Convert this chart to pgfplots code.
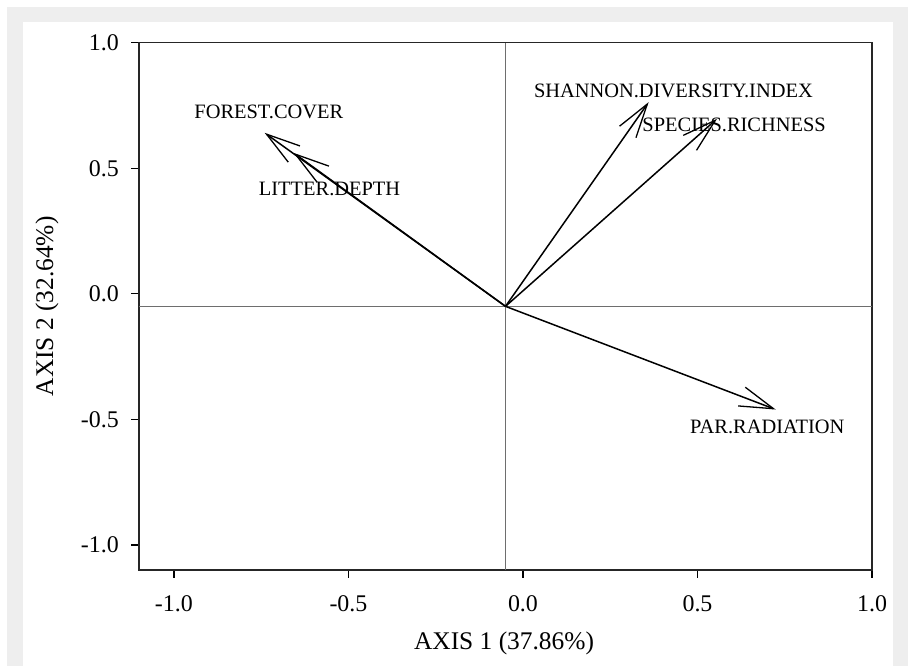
\documentclass[border=0pt]{standalone}
\usepackage{pgfplots}
\pgfplotsset{compat=1.18}
\usepackage{fontspec}
\setmainfont{Liberation Serif}
\usetikzlibrary{arrows.meta}
\definecolor{bandgray}{HTML}{EEEEEE}
\definecolor{zerogray}{HTML}{6E6E6E}
\tikzset{vec/.style={black, line width=1.5bp, no marks, -{Straight Barb[length=34bp, width=20bp, line width=1.3bp]}}}
\begin{document}
\begin{tikzpicture}[x=1bp,y=1bp]
\fill[white] (0,0) rectangle (911,666);
\fill[bandgray] (7,0) rectangle (908,659);
\fill[white] (23,0) rectangle (893,644);
\begin{axis}[
  at={(139bp,96bp)}, anchor=south west,
  width=733bp, height=527.3bp, scale only axis,
  xmin=-1.1, xmax=1.0, ymin=-1.1, ymax=1.0,
  xtick={-1,-0.5,0,0.5,1}, ytick={-1,-0.5,0,0.5,1},
  xtick pos=bottom, ytick pos=left,
  tick align=outside,
  major tick length=8bp,
  tick style={black, line width=1.4bp},
  axis line style={black!85, line width=1.6bp},
  /pgf/number format/assume math mode=true,
  /pgf/number format/.cd, fixed, fixed zerofill, precision=1, /pgfplots/.cd,
  ticklabel style={font=\fontsize{24}{28}\selectfont, inner sep=0pt},
  xticklabel style={anchor=north, yshift=-17bp},
  yticklabel style={anchor=east, xshift=-12bp},
  xlabel={AXIS 1 (37.86\%)},
  ylabel={AXIS 2 (32.64\%)},
  label style={font=\fontsize{25.5}{30}\selectfont},
  x label style={at={(axis description cs:0.498,0)}, anchor=center, yshift=-73bp},
  y label style={at={(axis description cs:0,0.5)}, anchor=center, yshift=92bp},
  clip=false,
]
\addplot[zerogray, line width=1.6bp, no marks] coordinates {(-0.05,-1.1) (-0.05,1.0)};
\addplot[zerogray, line width=1.6bp, no marks] coordinates {(-1.1,-0.05) (1.0,-0.05)};

\node[font=\fontsize{20.5}{24}\selectfont] at (axis cs:-0.728,0.726) {FOREST.COVER};
\node[font=\fontsize{20.5}{24}\selectfont] at (axis cs:-0.554,0.418) {LITTER.DEPTH};
\node[font=\fontsize{20.5}{24}\selectfont] at (axis cs:0.431,0.809) {SHANNON.DIVERSITY.INDEX};
\node[font=\fontsize{20.5}{24}\selectfont] at (axis cs:0.605,0.673) {SPECIES.RICHNESS};
\node[font=\fontsize{20.5}{24}\selectfont] at (axis cs:0.700,-0.531) {PAR.RADIATION};

\addplot[vec] coordinates {(-0.05,-0.05) (-0.740,0.641)};
\addplot[vec] coordinates {(-0.05,-0.05) (-0.657,0.561)};
\addplot[vec] coordinates {(-0.05,-0.05) (0.360,0.763)};
\addplot[vec] coordinates {(-0.05,-0.05) (0.556,0.697)};
\addplot[vec] coordinates {(-0.05,-0.05) (0.724,-0.461)};
\end{axis}
\end{tikzpicture}
\end{document}
